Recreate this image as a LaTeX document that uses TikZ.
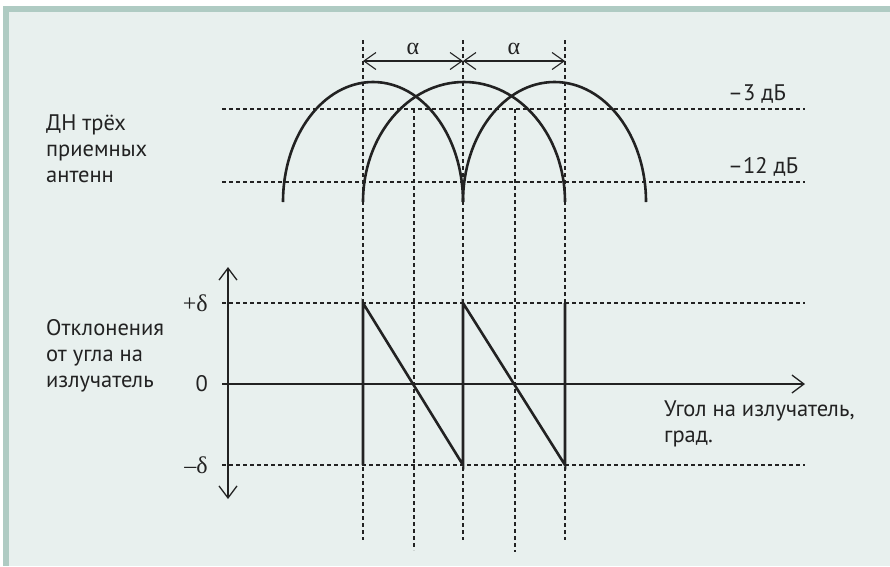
\documentclass[tikz,border=0pt]{standalone}
\usepackage{fontspec}
\setmainfont{PT Sans}
\newfontfamily\greekfont{Liberation Serif}
\usepackage{xcolor}
\usetikzlibrary{arrows.meta,positioning}
\definecolor{frameband}{HTML}{AFCBC3}
\definecolor{panelbg}{HTML}{E8F0EE}
\definecolor{ink}{HTML}{222222}

\begin{document}
\begin{tikzpicture}[
  x=1pt,y=-1pt,
  font=\fontsize{22.5}{26}\selectfont,
  txt/.style={text=ink,inner sep=0pt,align=left},
  grk/.style={txt,font=\fontsize{24}{26}\selectfont\greekfont},
  guide/.style={ink,line width=1.1pt,dash pattern=on 4pt off 3pt},
  curve/.style={ink,line width=2.6pt},
  axis/.style={ink,line width=1.3pt,-{Straight Barb[length=12pt,width=18pt]}},
  span/.style={ink,line width=1.1pt,{Straight Barb[length=12pt,width=17pt]}-{Straight Barb[length=12pt,width=17pt]}}
]
% frame
\fill[white] (0,0) rectangle (890,566);
\fill[frameband] (3,6) rectangle (890,566);
\fill[panelbg] (9,12) rectangle (890,566);
\useasboundingbox (0,0) rectangle (890,566);

% guide points
\coordinate (g1t) at (363,40);  \coordinate (g1b) at (363,540);
\coordinate (g2t) at (414,109); \coordinate (g2b) at (414,550);
\coordinate (g3t) at (463,40);  \coordinate (g3b) at (463,540);
\coordinate (g4t) at (515,109); \coordinate (g4b) at (515,552);
\coordinate (g5t) at (565,40);  \coordinate (g5b) at (565,540);
\coordinate (h3l) at (222,109); \coordinate (h3r) at (805,109);
\coordinate (h12l) at (222,182); \coordinate (h12r) at (805,182);
\coordinate (hpl) at (222,303); \coordinate (hpr) at (805,303);
\coordinate (hml) at (222,465); \coordinate (hmr) at (805,465);

% dashed grid
\foreach \i in {1,...,5} {\draw[guide] (g\i t) -- (g\i b);}
\draw[guide] (h3l) -- (h3r);
\draw[guide] (h12l) -- (h12r);
\draw[guide] (hpl) -- (hpr);
\draw[guide] (hml) -- (hmr);

% spacing arrows
\coordinate (s1) at (363,61);
\coordinate (s2) at (463,61);
\coordinate (s3) at (565,61);
\draw[span] (s1) -- node[grk,above=6pt]{α} (s2);
\draw[span] (s2) -- node[grk,above=6pt]{α} (s3);

% antenna patterns
\coordinate (p1) at (283,202);
\coordinate (p2) at (363,202);
\coordinate (p3) at (463,202);
\draw[curve] (p1) arc[start angle=180,end angle=0,x radius=90pt,y radius=120pt];
\draw[curve] (p2) arc[start angle=180,end angle=0,x radius=101pt,y radius=120pt];
\draw[curve] (p3) arc[start angle=180,end angle=0,x radius=91.5pt,y radius=120pt];

\node[txt,anchor=west] (db3)  at (728,94)  {–3 дБ};
\node[txt,anchor=west] (db12) at (728,167) {–12 дБ};
\node[txt,anchor=west] (dn)   at (46,149)  {ДН трёх\\приемных\\антенн};

% deviation plot
\coordinate (vb) at (228,499);
\coordinate (vt) at (228,267);
\coordinate (ax0) at (222,384);
\coordinate (ax1) at (805,384);
\draw[axis,{Straight Barb[length=12pt,width=18pt]}-{Straight Barb[length=12pt,width=18pt]}] (vb) -- (vt);
\draw[axis] (ax0) -- (ax1);

\coordinate (t1) at (363,465); \coordinate (t2) at (363,303);
\coordinate (t3) at (463,465); \coordinate (t4) at (463,303);
\coordinate (t5) at (565,465); \coordinate (t6) at (565,303);
\draw[curve,line join=miter] (t1) -- (t2) -- (t3) -- (t4) -- (t5) -- (t6);

\node[grk,anchor=east] (dp) at (208,303) {+δ};
\node[txt,anchor=east] (d0) at (208,384) {0};
\node[grk,anchor=east] (dm) at (208,465) {–δ};
\node[txt,anchor=west] (dev) at (46,356) {Отклонения\\от угла на\\излучатель};
\node[txt,anchor=west] (ang) at (664,424) {Угол на излучатель,\\град.};
\end{tikzpicture}
\end{document}
